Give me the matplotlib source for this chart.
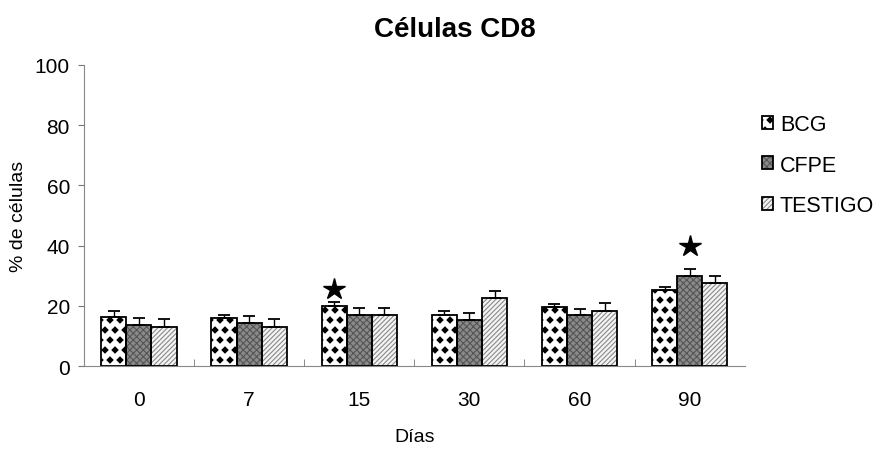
import matplotlib
matplotlib.use("Agg")
import matplotlib.pyplot as plt
import matplotlib.hatch as mhatch
from matplotlib.legend_handler import HandlerTuple
from matplotlib.path import Path
import numpy as np

plt.rcParams['font.family'] = ['Liberation Sans', 'DejaVu Sans']
plt.rcParams['hatch.linewidth'] = 0.8


class FilledDiamonds(mhatch.Shapes):
    """Filled diamond hatch, used for the 'O' pattern character."""
    size = 0.3
    filled = True

    def __init__(self, hatch, density):
        self.num_rows = hatch.count('O') * 10
        self.shape_vertices = np.array([[0, 1], [1, 0], [0, -1], [-1, 0], [0, 1]], float)
        self.shape_codes = np.array([Path.MOVETO, Path.LINETO, Path.LINETO,
                                     Path.LINETO, Path.CLOSEPOLY], dtype=Path.code_type)
        super().__init__(hatch, density)


mhatch._hatch_types = [FilledDiamonds if t is mhatch.LargeCircles else t
                       for t in mhatch._hatch_types]

days = ["0", "7", "15", "30", "60", "90"]
series = ["BCG", "CFPE", "TESTIGO"]
bcg = [16.4, 15.9, 20.1, 17.1, 19.7, 25.3]
cfpe = [13.7, 14.4, 17.1, 15.4, 16.8, 29.9]
testigo = [13.0, 13.1, 17.1, 22.6, 18.4, 27.6]
bcg_err = [1.8, 1.1, 1.1, 1.1, 1.0, 1.1]
cfpe_err = [2.2, 2.2, 2.3, 2.3, 2.2, 2.4]
testigo_err = [2.5, 2.5, 2.3, 2.4, 2.4, 2.3]
# significance marks: (day index, series index, y position)
stars = [(2, 0, 25.5), (5, 1, 40.0)]

values = [bcg, cfpe, testigo]
errors = [bcg_err, cfpe_err, testigo_err]
styles = [
    dict(facecolor="white", hatch="O", hatch_color="black"),
    dict(facecolor="#8a8a8a", hatch="xxxxx", hatch_color="#555555"),
    dict(facecolor="#f4f4f4", hatch="///////", hatch_color="#8a8a8a"),
]

fig = plt.figure(figsize=(8.92, 4.52), dpi=100)
ax = fig.add_axes([0.094, 0.188, 0.741, 0.666])

x = np.arange(len(days))
w = 0.228
offsets = [-w, 0, w]
handles = []
for vals, errs, st, off, name in zip(values, errors, styles, offsets, series):
    bars = ax.bar(x + off, vals, width=w, facecolor=st["facecolor"],
                  edgecolor=st["hatch_color"], hatch=st["hatch"], linewidth=0,
                  label=name, zorder=2)
    # black outline drawn over the hatch
    outline = ax.bar(x + off, vals, width=w, facecolor="none", edgecolor="black",
                     linewidth=1.3, zorder=3)
    ax.errorbar(x + off, vals, yerr=[np.zeros(len(vals)), errs], fmt="none",
                ecolor="black", elinewidth=1.0, capsize=4, capthick=1.3, zorder=4)
    handles.append((bars, outline))

for di, si, yv in stars:
    ax.plot(x[di] + offsets[si], yv, marker="*", markersize=16, color="black",
            linestyle="none", zorder=5)

ax.set_xlim(-0.5, len(days) - 0.5)
ax.set_ylim(0, 100)
ax.set_yticks(np.arange(0, 101, 20))
ax.set_xticks(x)
ax.set_xticklabels(days)
ax.set_xticks(np.arange(0.5, len(days) - 0.5, 1), minor=True)
ax.tick_params(axis="x", which="major", length=0, pad=17, labelsize=15)
ax.tick_params(axis="x", which="minor", length=5, direction="in", color="#777777")
ax.tick_params(axis="y", length=4, color="#777777", labelsize=15, pad=6)
for s in ["top", "right"]:
    ax.spines[s].set_visible(False)
ax.spines["left"].set_color("#888888")
ax.spines["bottom"].set_color("#888888")

ax.set_xlabel("Días", fontsize=14, labelpad=14)
ax.set_ylabel("% de células", fontsize=14, labelpad=6)
fig.text(0.51, 0.934, "Células CD8", ha="center", va="center",
         fontsize=20, fontweight="bold")

fig.legend(handles=handles, labels=series, loc="upper left",
           handler_map={tuple: HandlerTuple(ndivide=1, pad=0)},
           bbox_to_anchor=(0.832, 0.788), frameon=False, fontsize=15.5,
           handlelength=0.55, handleheight=0.55, handletextpad=0.3,
           labelspacing=0.9, borderpad=0.4)

fig.savefig("out.png", dpi=100)
